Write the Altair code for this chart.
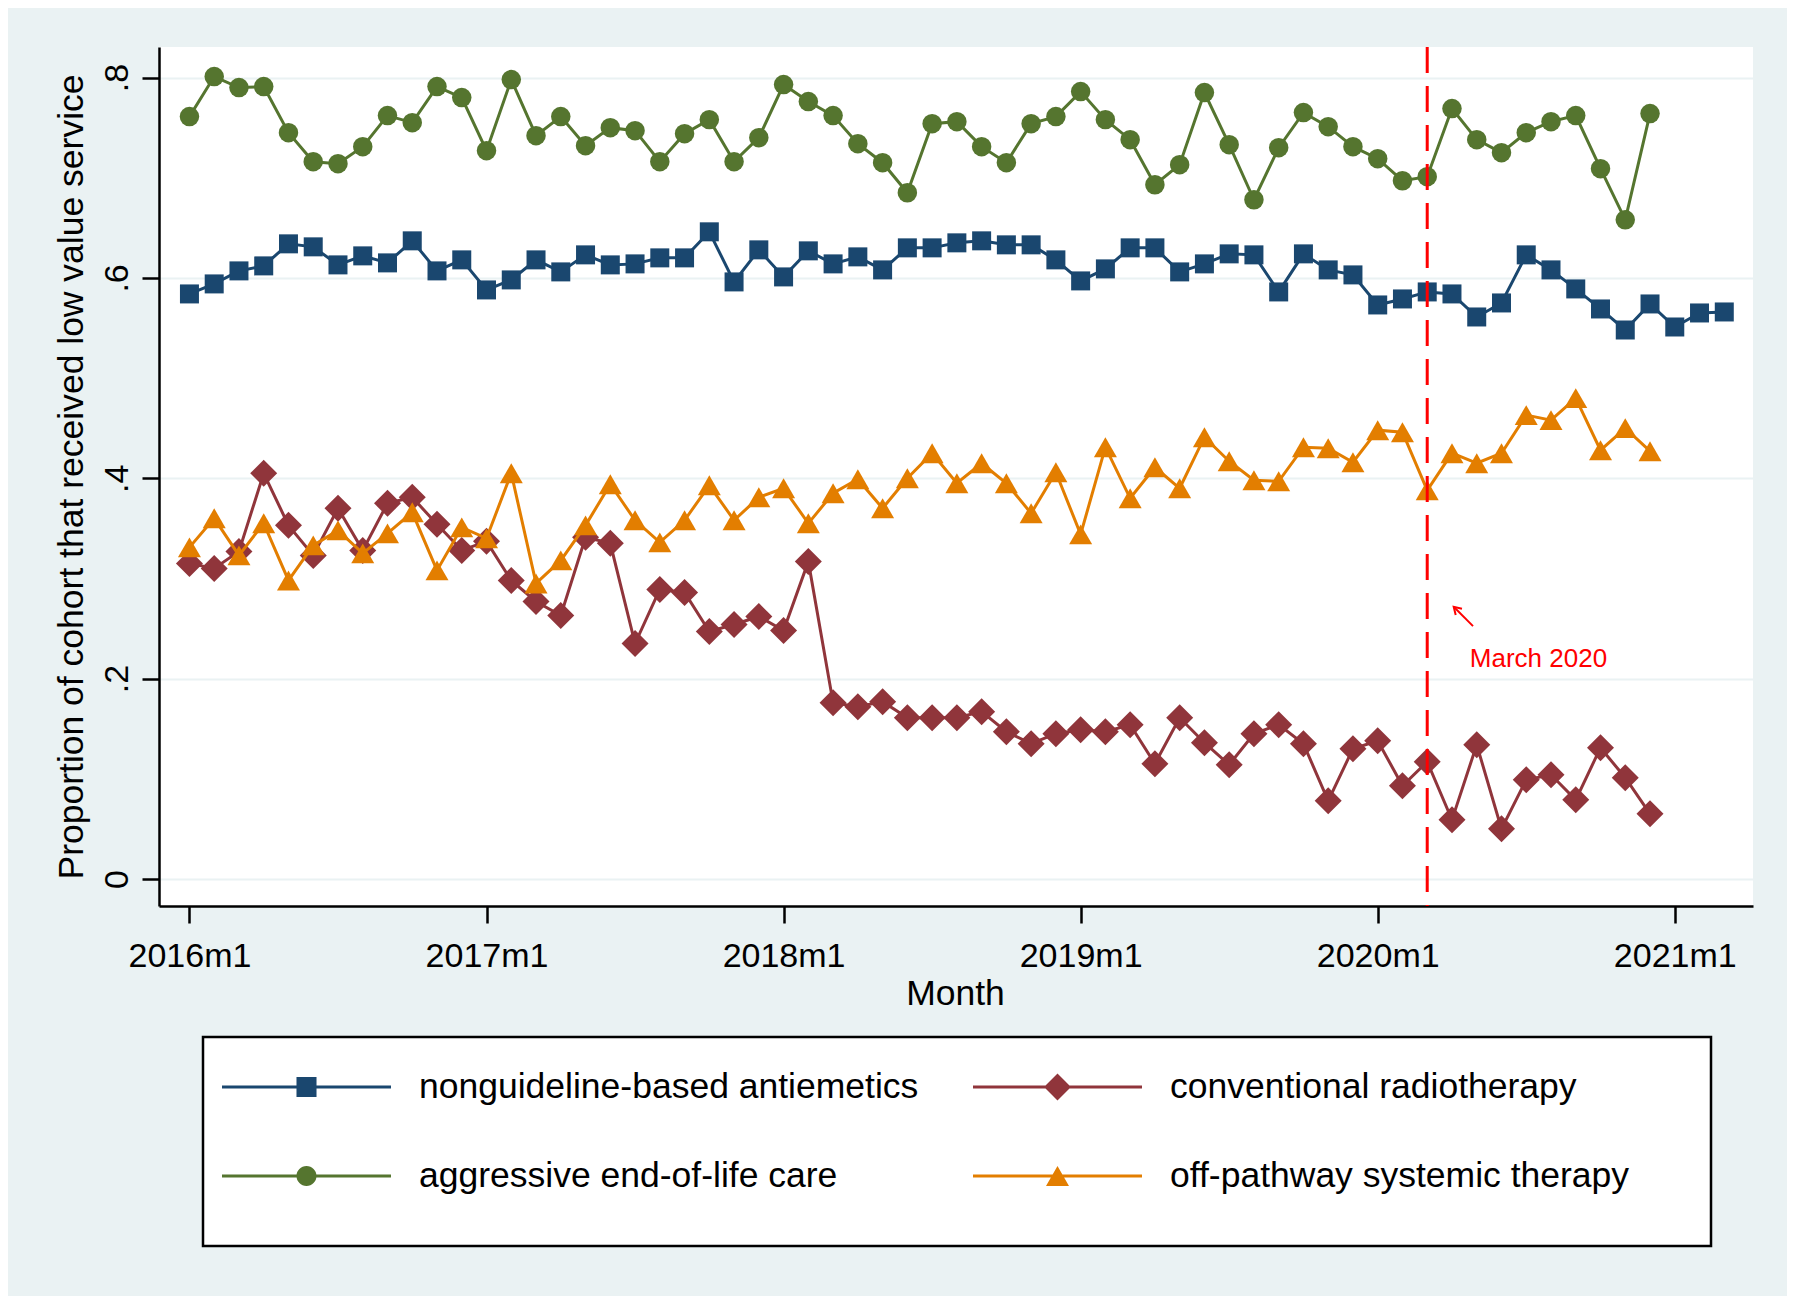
import json
import altair as alt
import pandas as pd

FONT = "Liberation Sans"

# ---------------- data ----------------
SERIES = [
    "nonguideline-based antiemetics",
    "conventional radiotherapy",
    "aggressive end-of-life care",
    "off-pathway systemic therapy",
]
COLORS = ["#1A476F", "#90353B", "#55752F", "#E37E00"]
SHAPES = ["square", "diamond", "circle", "triangle-up"]
MARKER_SIZES = [361, 729, 380, 529]

# month index 0 = 2016m1
antiemetics = [
    0.584, 0.594, 0.607, 0.612, 0.634, 0.631, 0.613, 0.622, 0.615, 0.637, 0.607, 0.618,
    0.588, 0.598, 0.618, 0.606, 0.623, 0.613, 0.614, 0.620, 0.620, 0.646, 0.596, 0.628,
    0.601, 0.627, 0.614, 0.621, 0.608, 0.630, 0.630, 0.635, 0.637, 0.633, 0.633, 0.618,
    0.597, 0.609, 0.630, 0.630, 0.606, 0.614, 0.624, 0.623, 0.586, 0.624, 0.608, 0.603,
    0.573, 0.579, 0.586, 0.584, 0.561, 0.575, 0.623, 0.608, 0.589, 0.569, 0.548, 0.574,
    0.551, 0.565, 0.566,
]
radiotherapy = [
    0.315, 0.310, 0.327, 0.405, 0.353, 0.323, 0.370, 0.328, 0.375, 0.381, 0.354, 0.328,
    0.337, 0.298, 0.277, 0.263, 0.341, 0.335, 0.235, 0.289, 0.286, 0.247, 0.254, 0.262,
    0.248, 0.317, 0.176, 0.172, 0.177, 0.161, 0.161, 0.161, 0.167, 0.147, 0.135, 0.145,
    0.149, 0.147, 0.154, 0.115, 0.161, 0.136, 0.114, 0.145, 0.154, 0.135, 0.078, 0.130,
    0.138, 0.093, 0.117, 0.059, 0.134, 0.050, 0.099, 0.104, 0.079, 0.131, 0.101, 0.065,
]
end_of_life = [
    0.761, 0.801, 0.790, 0.791, 0.745, 0.716, 0.714, 0.731, 0.762, 0.755, 0.791, 0.780,
    0.727, 0.798, 0.742, 0.761, 0.732, 0.750, 0.747, 0.716, 0.744, 0.758, 0.716, 0.740,
    0.793, 0.776, 0.762, 0.734, 0.715, 0.685, 0.754, 0.756, 0.731, 0.715, 0.754, 0.761,
    0.786, 0.758, 0.738, 0.693, 0.713, 0.785, 0.733, 0.678, 0.730, 0.765, 0.751, 0.731,
    0.719, 0.697, 0.701, 0.769, 0.738, 0.725, 0.745, 0.756, 0.762, 0.709, 0.658, 0.764,
]
off_pathway = [
    0.331, 0.360, 0.323, 0.355, 0.298, 0.333, 0.348, 0.325, 0.345, 0.366, 0.308, 0.351,
    0.340, 0.405, 0.295, 0.318, 0.353, 0.394, 0.358, 0.336, 0.358, 0.393, 0.358, 0.381,
    0.390, 0.355, 0.385, 0.399, 0.370, 0.400, 0.425, 0.395, 0.415, 0.395, 0.365, 0.406,
    0.344, 0.431, 0.380, 0.411, 0.390, 0.441, 0.417, 0.398, 0.397, 0.431, 0.430, 0.416,
    0.448, 0.446, 0.388, 0.425, 0.415, 0.425, 0.463, 0.458, 0.480, 0.428, 0.450, 0.427,
]
VALUES = [antiemetics, radiotherapy, end_of_life, off_pathway]

TICK_MONTHS = [0, 12, 24, 36, 48, 60]
TICK_LABELS = ["2016m1", "2017m1", "2018m1", "2019m1", "2020m1", "2021m1"]
Y_TICKS = [0, 0.2, 0.4, 0.6, 0.8]
Y_TICK_LABELS = ["0", ".2", ".4", ".6", ".8"]

MARCH_2020 = 50  # 2020m3
ANNOT_TEXT = "March 2020"

rows = []
for name, vals in zip(SERIES, VALUES):
    for i, v in enumerate(vals):
        rows.append({"month": i, "value": v, "series": name})
df = pd.DataFrame(rows)

# legend symbols: line with marker in the middle (custom SVG paths, unit = 70.5 px)
LINE_PATH = "M-1,-0.0213H1.397V0.0213H-1Z"
CX = 0.1986
LEGEND_PATHS = [
    LINE_PATH + f"M{CX-0.142},-0.142H{CX+0.142}V0.142H{CX-0.142}Z",
    LINE_PATH + f"M{CX},-0.191L{CX+0.191},0L{CX},0.191L{CX-0.191},0Z",
    LINE_PATH + f"M{CX-0.142},0A0.142,0.142,0,1,1,{CX+0.142},0A0.142,0.142,0,1,1,{CX-0.142},0Z",
    LINE_PATH + f"M{CX},-0.142L{CX+0.163},0.142L{CX-0.163},0.142Z",
]

# ---------------- encodings ----------------
X_ENC = alt.X(
    "month:Q",
    scale=alt.Scale(domain=[-1.23, 63.16], nice=False, zero=False),
    title="Month",
    axis=alt.Axis(
        values=TICK_MONTHS,
        labelExpr=json.dumps(TICK_LABELS) + "[round(datum.value / 12)]",
        grid=False,
        tickSize=17, tickWidth=2.5, tickColor="black",
        domainColor="black", domainWidth=2.5,
        labelFont=FONT, labelFontSize=34, labelColor="black",
        labelPadding=16, labelBaseline="top", labelAlign="center", labelAngle=0,
        labelFlush=False, labelOverlap=False,
        titleFont=FONT, titleFontSize=35.5, titleFontWeight="normal", titleColor="black",
        titleX=796, titleY=98, titleAlign="center", titleBaseline="alphabetic",
    ),
)
Y_ENC = alt.Y(
    "value:Q",
    scale=alt.Scale(domain=[-0.027, 0.8305], nice=False, zero=False),
    title="Proportion of cohort that received low value service",
    axis=alt.Axis(
        values=Y_TICKS,
        labelExpr=json.dumps(Y_TICK_LABELS) + "[round(datum.value * 5)]",
        grid=True, gridColor="#EAF2F3", gridWidth=2,
        tickSize=17, tickWidth=2.5, tickColor="black",
        domainColor="black", domainWidth=2.5,
        labelFont=FONT, labelFontSize=34, labelColor="black",
        labelAngle=270, labelAlign="center", labelBaseline="bottom", labelPadding=8,
        labelFlush=False, labelOverlap=False,
        titleFont=FONT, titleFontSize=35.5, titleFontWeight="normal", titleColor="black",
        titleAngle=270, titleX=-77, titleY=429.5, titleAlign="center",
        titleBaseline="alphabetic",
    ),
)

# ---------------- layers ----------------
layers = []

# legend box (decoration, drawn first)
legend_box = alt.Chart(alt.Data(values=[{}])).mark_rect(
    fill="white", stroke="black", strokeWidth=2.5
).encode(
    x=alt.value(44), x2=alt.value(1552), y=alt.value(990), y2=alt.value(1199)
)
layers.append(legend_box)

for name, color, shape, size in zip(SERIES, COLORS, SHAPES, MARKER_SIZES):
    base = alt.Chart(df).transform_filter(alt.datum.series == name)
    layers.append(base.mark_line(color=color, strokeWidth=3).encode(x=X_ENC, y=Y_ENC))
    layers.append(
        base.mark_point(
            shape=shape, size=size, filled=True, color=color, opacity=1, strokeWidth=0
        ).encode(x=X_ENC, y=Y_ENC)
    )

# legend layer (no marks drawn; only provides the legend)
LEG = alt.Legend(
    orient="none", legendX=63, legendY=969.5, direction="horizontal", columns=2,
    columnPadding=54, rowPadding=0, gridAlign="all", padding=0, labelOffset=56,
    symbolSize=19881, symbolStrokeWidth=0,
    labelFont=FONT, labelFontSize=35.5, labelColor="black", labelLimit=2000,
    title=None,
)
legend_layer = alt.Chart(df).transform_filter("false").mark_point(
    filled=True, opacity=1
).encode(
    x=X_ENC,
    y=Y_ENC,
    color=alt.Color("series:N", scale=alt.Scale(domain=SERIES, range=COLORS), legend=LEG),
    shape=alt.Shape("series:N", scale=alt.Scale(domain=SERIES, range=LEGEND_PATHS), legend=LEG),
)
layers.append(legend_layer)

# March 2020 dashed line
vline = alt.Chart(alt.Data(values=[{"month": MARCH_2020}])).mark_rule(
    color="#FF0000", strokeWidth=3, strokeDash=[26, 13]
).encode(x=X_ENC)
layers.append(vline)

# arrow + text annotation
arrow = alt.Chart(
    alt.Data(values=[{"month": 51.85, "value": 0.2524, "month2": 51.07, "value2": 0.2717}])
).mark_rule(color="#FF0000", strokeWidth=2).encode(
    x=X_ENC, y=Y_ENC, x2=alt.X2("month2:Q"), y2=alt.Y2("value2:Q")
)
arrow_head = alt.Chart(alt.Data(values=[{"month": 51.07, "value": 0.2717}])).mark_point(
    shape="M-0.55,0.9L0,0L0.55,0.9", filled=False, color="#FF0000", strokeWidth=2,
    size=260, angle=315, opacity=1
).encode(x=X_ENC, y=Y_ENC)
annot = alt.Chart(alt.Data(values=[{"month": 51.72, "value": 0.2115}])).mark_text(
    text=ANNOT_TEXT, align="left", baseline="alphabetic", fontSize=26,
    color="#FF0000", font=FONT
).encode(x=X_ENC, y=Y_ENC)
layers += [arrow, arrow_head, annot]

chart = alt.layer(*layers).properties(
    width=1594,
    height=859,
    autosize=alt.AutoSizeParams(type="none"),
    padding={"left": 151, "top": 39, "right": 34, "bottom": 390},
).configure(
    background="#EAF2F3", font=FONT
).configure_view(
    fill="white", strokeWidth=0
)

chart.save("out.html", embed_options={"renderer": "svg", "actions": False})
